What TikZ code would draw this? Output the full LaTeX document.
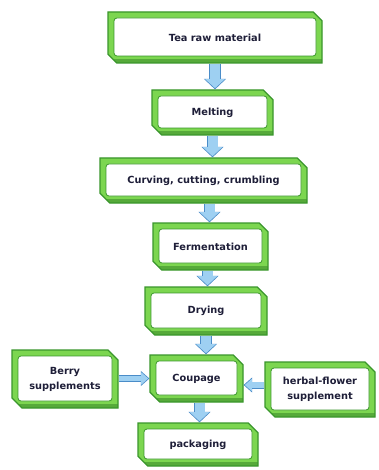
\documentclass[tikz,border=0pt]{standalone}
\usepackage{fontspec}
\setmainfont{DejaVu Sans}
\usetikzlibrary{shapes.misc,arrows.meta,calc}
\definecolor{gdark}{HTML}{3A962C}
\definecolor{glight}{HTML}{7CD650}
\definecolor{txt}{HTML}{1E1E38}
\definecolor{afill}{HTML}{9ED0F2}
\definecolor{aedge}{HTML}{4A8CC8}
\tikzset{
  gbox/.style={chamfered rectangle, chamfered rectangle corners={north east,south west},
    chamfered rectangle xsep=5pt, chamfered rectangle ysep=5pt,
    fill=glight, draw=gdark, line width=1.2pt, inner sep=0pt,
    font=\bfseries\fontsize{9.8}{15}\selectfont, text=txt, align=center,
    path picture={
      \fill[gdark!85!black, opacity=0.5] ([shift={(0pt,0pt)}]path picture bounding box.south west) rectangle ([shift={(0pt,4pt)}]path picture bounding box.south east);
      \draw[gdark, fill=white, line width=0.8pt, rounded corners=3pt]
        ([shift={(6pt,-6pt)}]path picture bounding box.north west) rectangle
        ([shift={(-6pt,7pt)}]path picture bounding box.south east);
    }},
  varrow/.style={line width=10pt, draw=afill, shorten >=1.2pt,
    -{Triangle[width=19pt,length=9pt]},
    preaction={draw=aedge, line width=11.6pt, shorten >=0pt, -{Triangle[width=21.5pt,length=10.5pt]}}},
  harrow/.style={line width=5.5pt, draw=afill, shorten >=1.2pt,
    -{Triangle[width=12pt,length=7pt]},
    preaction={draw=aedge, line width=7pt, shorten >=0pt, -{Triangle[width=14.5pt,length=8.5pt]}}}
}
\begin{document}
\begin{tikzpicture}[x=1pt,y=-1pt]
\useasboundingbox[fill=white] (0,0) rectangle (379,470);
\node[gbox, minimum width=214pt, minimum height=51pt] (raw) at (215,37.5) {Tea raw material};
\node[gbox, minimum width=121pt, minimum height=45pt] (melt) at (212.5,112.5) {Melting};
\node[gbox, minimum width=207pt, minimum height=45pt] (curv) at (203.5,180.5) {Curving, cutting, crumbling};
\node[gbox, minimum width=115pt, minimum height=47pt] (ferm) at (210.5,246.5) {Fermentation};
\node[gbox, minimum width=122pt, minimum height=48pt] (dry) at (206,311) {Drying};
\node[gbox, minimum width=93pt, minimum height=47pt] (coup) at (196.5,378.5) {Coupage};
\node[gbox, minimum width=106pt, minimum height=58pt] (berry) at (65,379) {Berry\\supplements};
\node[gbox, minimum width=110pt, minimum height=55pt] (herb) at (320,389.5) {herbal-flower\\supplement};
\node[gbox, minimum width=120pt, minimum height=43pt] (pack) at (198,444.5) {packaging};
\draw[varrow] (raw.south) -- (raw.south |- melt.north);
\draw[varrow] ([xshift=0pt]melt.south) -- (melt.south |- curv.north);
\draw[varrow] ([xshift=6pt]curv.south) -- ([xshift=6pt]curv.south |- ferm.north);
\draw[varrow] ([xshift=-3pt]ferm.south) -- ([xshift=-3pt]ferm.south |- dry.north);
\draw[varrow] (dry.south) -- (dry.south |- coup.north);
\draw[varrow] ([xshift=3pt]coup.south) -- ([xshift=3pt]coup.south |- pack.north);
\draw[harrow] (berry.east |- coup.west) -- (coup.west);
\draw[harrow] ([yshift=4.5pt]herb.west) -- ([yshift=4.5pt]herb.west -| coup.east);
\end{tikzpicture}
\end{document}
